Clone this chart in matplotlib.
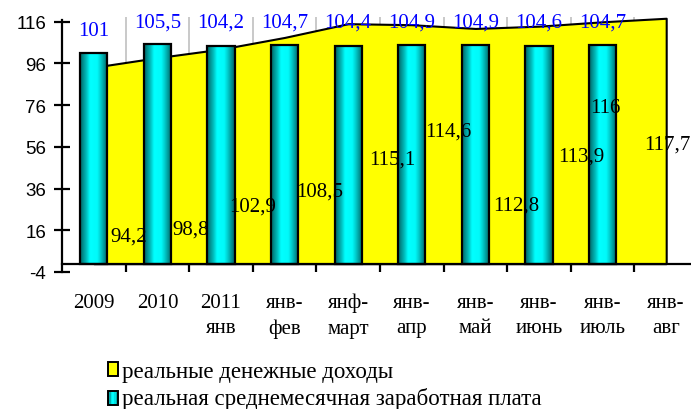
import numpy as np
import matplotlib
matplotlib.use("Agg")
import matplotlib.pyplot as plt
from matplotlib.colors import LinearSegmentedColormap
from matplotlib.patches import Rectangle
from matplotlib.legend_handler import HandlerBase

plt.rcParams["axes.unicode_minus"] = False

# categories and values
categories = ["2009", "2010", "2011\nянв", "янв-\nфев", "янф-\nмарт", "янв-\nапр",
              "янв-\nмай", "янв-\nиюнь", "янв-\nиюль", "янв-\nавг"]
income = [94.2, 98.8, 102.9, 108.5, 115.1, 114.6, 112.8, 113.9, 116, 117.7]
wage = [101, 105.5, 104.2, 104.7, 104.4, 104.9, 104.9, 104.6, 104.7]

# where the (hand-moved) data labels sit
income_lbl_dx = [0.55, 0.52, 0.49, 0.55, 0.70, 0.57, 0.64, 0.66, 0.05, 0.02]
income_lbl_y = [13.4, 16.7, 27.7, 35, 50.3, 63.7, 28.2, 51.7, 74.7, 57.5]
wage_lbl_y = [112, 116, 116, 116, 116, 116, 116, 116, 116]

SERIF = "Liberation Serif"
SANS = "Liberation Sans"

bar_cmap = LinearSegmentedColormap.from_list(
    "cyl", [(0.0, "#006464"), (0.12, "#009494"), (0.25, "#00C8C8"),
            (0.36, "#00FFFF"), (0.62, "#00FAFA"), (0.76, "#00C8C8"),
            (0.9, "#008C8C"), (1.0, "#006464")])


def fmt(v):
    s = f"{v:.1f}".replace(".", ",")
    return s[:-2] if s.endswith(",0") else s


class GradientHandler(HandlerBase):
    def create_artists(self, legend, orig, xd, yd, w, h, fontsize, trans):
        arts = []
        n = 8
        for i in range(n):
            r = Rectangle((xd + w * i / n, yd), w / n, h,
                          facecolor=bar_cmap((i + 0.5) / n), edgecolor="none",
                          transform=trans)
            arts.append(r)
        arts.append(Rectangle((xd, yd), w, h, facecolor="none",
                              edgecolor="black", lw=1.4, transform=trans))
        return arts


fig = plt.figure(figsize=(6.91, 4.10), dpi=100)
ax = fig.add_axes([62 / 691, 137 / 410, (691 - 62) / 691, 254.8 / 410])

x = np.arange(len(categories))
xb = np.arange(len(wage))

# yellow area for incomes
ax.fill_between(x, 0, income, facecolor="#FFFF00", edgecolor="black",
                lw=1.5, zorder=1)

# bars with a cylinder-like gradient
bars = ax.bar(xb, wage, width=0.43, facecolor="none", edgecolor="black",
              lw=1.6, zorder=3)
grad = np.linspace(0, 1, 64).reshape(1, -1)
for b in bars:
    x0, w, h = b.get_x(), b.get_width(), b.get_height()
    ax.imshow(grad, cmap=bar_cmap, extent=(x0, x0 + w, 0, h), aspect="auto",
              zorder=2.5, interpolation="bilinear")

for i, v in enumerate(wage):
    ax.text(i, wage_lbl_y[i], fmt(v), ha="center", va="center", color="#0000FF",
            fontsize=15, family=SERIF, zorder=5)

for i, v in enumerate(income):
    ax.text(i + income_lbl_dx[i], income_lbl_y[i], fmt(v), ha="center",
            va="center", color="black", fontsize=15, family=SERIF, zorder=5)

ax.set_xlim(-0.5, 9.39)
ax.set_ylim(-4, 118.2)

# axes
for s in ["top", "right"]:
    ax.spines[s].set_visible(False)
ax.spines["bottom"].set_position(("data", 0))
ax.spines["bottom"].set_linewidth(1.6)
ax.spines["left"].set_linewidth(1.6)
ax.spines["left"].set_bounds(-4, 117)
ax.spines["bottom"].set_zorder(4)

ax.set_yticks(np.arange(-4, 117, 20))
ax.tick_params(axis="y", direction="inout", length=11, width=1.6, pad=6,
               labelsize=13.5)
for t in ax.get_yticklabels():
    t.set_family(SANS)

ax.set_xticks(np.arange(0.5, 9.5, 1))
ax.set_xticks(x, minor=True)
ax.set_xticklabels([], minor=False)
ax.set_xticklabels(categories, minor=True, family=SERIF, fontsize=15,
                   linespacing=1.45, va="top")
ax.tick_params(axis="x", which="major", direction="inout", length=11,
               width=1.6)
ax.tick_params(axis="x", which="minor", length=0, pad=21)

ax.grid(axis="x", which="major", color="#C0C0C0", lw=1.2, zorder=0)
ax.set_axisbelow(True)

yellow = Rectangle((0, 0), 1, 1, facecolor="#FFFF00", edgecolor="black", lw=1.4)
cyan = Rectangle((0, 0), 1, 1)
fig.legend([yellow, cyan], ["реальные денежные доходы",
                            "реальная среднемесячная заработная плата"],
           handler_map={cyan: GradientHandler()},
           loc="upper left", bbox_to_anchor=(108 / 691, 1 - 362 / 410),
           frameon=False, prop={"family": SERIF, "size": 16.5},
           handlelength=0.45, handleheight=0.55, handletextpad=0.15,
           labelspacing=0.2, borderaxespad=0, borderpad=0)

fig.savefig("out.png", dpi=100)
